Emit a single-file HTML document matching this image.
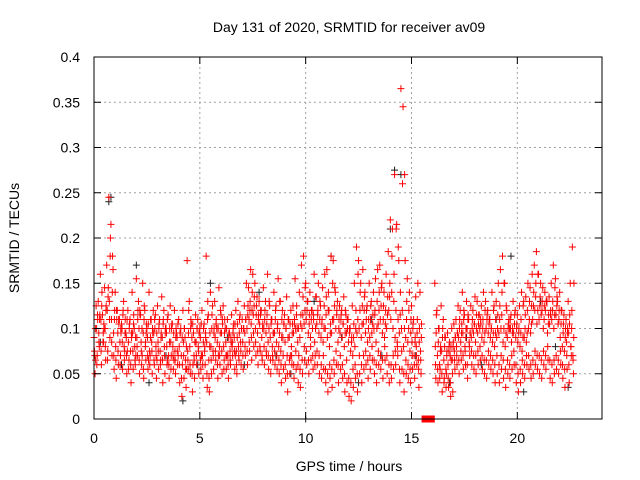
<!DOCTYPE html>
<html><head><meta charset="utf-8">
<style>
body{margin:0;background:#fff;}
svg{display:block;font-family:"Liberation Sans",sans-serif;}
</style></head>
<body>
<svg id="chart" width="640" height="480" viewBox="0 0 640 480" xmlns="http://www.w3.org/2000/svg">
<rect x="0" y="0" width="640" height="480" fill="#fff"/>
<text x="349" y="32" font-size="14" text-anchor="middle" fill="#000">Day 131 of 2020, SRMTID for receiver av09</text>
<g id="grid"></g>
<g id="black"></g>
<g id="red"></g>
<g id="axes"></g>
<text x="349" y="471" font-size="14" text-anchor="middle">GPS time / hours</text>
<text transform="translate(19,238) rotate(-90)" font-size="14" text-anchor="middle">SRMTID / TECUs</text>
</svg>
<script>
const xTicks=[0,5,10,15,20];
const yTicks=[0,0.05,0.1,0.15,0.2,0.25,0.3,0.35,0.4];
const yTickLabels=["0","0.05","0.1","0.15","0.2","0.25","0.3","0.35","0.4"];
const seriesA=[90,125,130,160,115,145,170,245,215,165,140,120,110,105,130,95,120,110,140,100,155,130,115,150,120,100,140,110,120,115,125,110,135,120,100,115,125,105,120,95,110,100,120,90,175,130,105,95,115,110,100,120,105,180,115,140,125,130,100,145,115,125,100,110,95,115,105,120,130,115,110,125,150,145,165,160,150,135,130,120,145,130,160,125,110,140,125,155,130,120,115,135,110,120,125,155,100,140,170,180,150,130,140,120,160,135,150,125,145,160,165,120,180,175,140,130,125,120,135,115,110,100,125,150,190,175,150,165,140,125,150,130,140,155,165,170,150,140,160,185,220,210,270,215,175,365,345,175,155,140,125,110,135,150,140,0,0,0,0,0,0,150,120,100,125,110,90,95,85,100,105,110,125,120,140,115,130,110,125,120,135,130,115,125,140,130,120,110,140,125,130,150,165,180,150,120,110,115,130,120,115,125,140,130,135,150,145,160,170,185,160,150,145,140,130,135,150,170,155,130,140,120,115,110,130,150,190];
const seriesB=[50,70,80,60,85,65,75,90,70,55,45,60,70,55,75,50,65,40,55,60,70,50,60,45,65,55,70,50,60,45,55,65,40,50,60,45,70,55,50,60,40,25,45,35,55,50,30,45,60,50,55,45,60,35,30,50,55,65,45,60,50,65,55,45,60,70,55,50,65,60,55,70,60,75,65,80,70,60,75,65,60,70,55,50,65,60,55,50,40,55,45,30,50,60,45,55,40,35,50,65,60,50,65,55,70,60,50,45,55,40,30,45,35,50,60,40,55,45,30,40,25,20,35,45,30,50,40,55,60,45,55,65,50,40,60,55,45,65,50,40,45,55,60,70,40,55,30,50,45,40,55,45,60,35,50,0,0,0,0,0,0,45,40,55,30,45,50,35,25,30,55,60,50,65,55,60,45,70,60,55,50,60,65,55,50,45,60,55,50,40,50,40,55,45,35,50,45,55,60,40,30,40,50,45,60,55,45,50,60,55,50,45,60,55,65,45,40,50,55,50,60,45,35,55,40,70,50];
const seriesC=[75,100,95,110,85,100,120,130,110,95,80,95,85,100,80,90,85,75,95,80,90,100,85,95,80,90,75,85,95,80,85,75,90,80,95,70,85,80,75,90,80,70,85,65,75,80,90,70,85,80,90,70,75,85,65,80,75,90,85,80,95,80,85,70,75,80,90,75,80,85,85,95,100,110,105,115,100,95,105,90,100,95,85,90,80,95,85,80,75,90,85,70,90,80,95,100,85,90,100,105,110,95,90,100,85,105,95,90,85,100,90,80,95,110,100,85,95,90,80,95,85,75,70,80,95,100,90,105,95,85,90,95,100,85,105,110,95,90,100,120,110,100,90,85,95,100,80,90,85,75,85,70,80,65,75,0,0,0,0,0,0,80,70,60,75,65,55,60,70,65,75,80,90,85,95,80,100,85,90,95,85,95,100,90,85,100,95,90,85,80,90,95,100,85,80,90,100,85,95,90,85,80,75,90,85,100,95,110,120,105,110,115,100,120,95,105,110,100,115,105,90,80,75,85,95,80,70];
const seriesD=[65,110,115,140,100,125,145,200,180,120,110,105,95,120,110,75,105,90,115,70,120,115,70,125,105,65,110,95,100,65,105,95,110,100,65,100,105,65,100,70,95,60,100,55,120,110,60,85,100,95,70,100,90,130,95,115,100,110,70,120,105,110,70,95,85,100,70,105,110,100,100,110,125,130,140,135,125,115,120,105,120,115,130,110,95,120,105,130,110,105,100,110,70,105,110,125,70,115,135,145,130,115,120,110,135,120,130,110,125,135,140,105,150,145,120,110,115,105,120,100,100,90,105,120,160,140,125,135,120,110,125,115,120,130,140,145,125,120,135,150,180,160,210,190,140,260,270,130,120,110,105,90,110,100,105,0,0,0,0,0,0,115,100,80,100,90,75,80,65,85,90,95,110,105,120,100,115,95,110,105,115,115,105,110,120,115,110,100,120,110,115,125,140,150,125,105,100,100,115,105,100,110,125,115,120,130,125,140,150,160,135,130,125,130,115,120,130,145,135,120,120,105,100,100,115,120,150];
const seriesE=[70,60,85,75,95,80,65,110,85,70,65,75,60,85,65,70,55,60,75,65,80,65,75,55,85,70,60,75,65,70,75,60,65,70,80,60,55,70,65,75,60,45,70,55,65,60,50,65,70,75,65,60,80,50,45,65,70,75,60,70,75,55,70,60,65,85,75,60,70,75,70,80,75,85,90,95,85,75,80,70,80,75,70,65,70,75,70,65,60,70,60,50,65,70,60,75,60,55,65,80,75,65,80,70,60,75,70,60,70,55,50,60,55,65,75,60,70,60,50,65,45,40,55,60,50,70,60,70,75,65,70,80,65,60,75,70,65,80,70,60,60,70,75,80,55,75,50,65,60,55,70,60,70,55,65,0,0,0,0,0,0,60,55,45,50,40,35,45,40,50,65,70,65,75,70,75,60,80,75,70,70,75,80,70,65,65,75,70,65,60,70,60,70,65,55,65,60,70,75,60,50,55,65,60,70,70,60,65,75,70,70,65,75,70,80,65,60,65,70,65,75,60,55,70,60,80,65];
const seriesF=[100,115,110,125,105,120,135,180,140,110,120,110,100,115,95,110,100,95,105,90,110,120,100,110,95,105,90,100,110,95,100,90,105,95,110,85,100,95,90,105,95,90,100,80,95,100,105,85,100,95,105,85,95,110,80,100,95,105,100,95,110,95,100,90,90,95,105,90,95,100,100,110,115,120,120,125,115,110,115,100,110,105,100,105,95,110,100,95,90,105,100,90,105,95,105,115,100,105,115,120,120,105,110,115,100,115,110,105,100,115,120,95,110,125,115,100,110,105,95,110,95,85,90,100,110,120,105,120,110,100,110,105,115,100,120,125,110,105,115,135,140,130,120,110,115,120,100,110,100,95,100,85,95,85,90,0,0,0,0,0,0,95,85,75,90,80,70,75,80,80,90,95,100,95,110,90,110,95,100,105,100,105,110,100,95,110,105,100,95,95,100,110,115,100,95,100,110,95,105,100,95,95,90,100,95,110,105,125,135,120,125,120,110,130,105,115,120,115,125,110,105,95,90,95,105,100,90];
const blackTimes=[0.3,0.7,0.8,1.3,2.0,2.6,3.4,4.2,4.9,5.5,6.3,7.1,7.8,8.6,9.3,10.0,10.4,11.2,11.7,12.5,13.1,13.6,14.0,14.2,14.5,15.2,16.8,17.6,18.3,19.0,19.7,20.3,21.1,21.8,22.4];
const blackVals=[0.085,0.24,0.245,0.06,0.17,0.04,0.07,0.02,0.06,0.15,0.09,0.06,0.14,0.07,0.05,0.0,0.13,0.18,0.09,0.04,0.11,0.07,0.21,0.275,0.27,0.07,0.04,0.09,0.06,0.11,0.18,0.03,0.13,0.08,0.035];

const NS="http://www.w3.org/2000/svg";
const L=94,R=602,T=57,B=419;
const xS=h=>L+h/24*(R-L);
const yS=v=>B-v/0.4*(B-T);
const grid=document.getElementById('grid'),axes=document.getElementById('axes');
function mk(tag,attrs,parent){const e=document.createElementNS(NS,tag);for(const k in attrs)e.setAttribute(k,attrs[k]);parent.appendChild(e);return e;}
yTicks.forEach((v,i)=>{
  const y=yS(v);
  if(i>0&&i<yTicks.length-1){const g=mk('line',{x1:L,x2:R,y1:y,y2:y,stroke:'#a0a0a0','stroke-dasharray':'2,3','stroke-width':1},grid);
  
  }
  mk('line',{x1:L,x2:L+7,y1:y,y2:y,stroke:'#000'},axes);
  mk('line',{x1:R,x2:R-7,y1:y,y2:y,stroke:'#000'},axes);
  const t=mk('text',{x:L-14,y:y+5,'font-size':14,'text-anchor':'end'},axes);
  t.textContent=yTickLabels[i];
  
  
});
xTicks.forEach(h=>{
  const x=xS(h);
  if(h>0){const g=mk('line',{x1:x,x2:x,y1:T,y2:B,stroke:'#a0a0a0','stroke-dasharray':'2,3','stroke-width':1},grid);
  
  }
  mk('line',{x1:x,x2:x,y1:B,y2:B-7,stroke:'#000'},axes);
  mk('line',{x1:x,x2:x,y1:T,y2:T+7,stroke:'#000'},axes);
  const t=mk('text',{x:x,y:B+24,'font-size':14,'text-anchor':'middle'},axes);
  t.textContent=String(h);
  
  
});
const box=mk('rect',{x:L,y:T,width:R-L,height:B-T,fill:'none',stroke:'#000','stroke-width':1},axes);



function plus(g,h,v,color){
  const x=xS(h),y=yS(v);
  const p=mk('path',{d:`M${x-3.5},${y}H${x+3.5}M${x},${y-3.5}V${y+3.5}`,stroke:color,'stroke-width':1,fill:'none'},g);
  
  
}
const blk=document.getElementById('black'),red=document.getElementById('red');
blackTimes.forEach((h,i)=>plus(blk,h,blackVals[i],'#202020'));
const offs=[0,0.05,0.025,0.075,0.035,0.065];
[seriesA,seriesB,seriesC,seriesD,seriesE,seriesF].forEach((s,k)=>{
  s.forEach((v,i)=>plus(red,i*0.1+offs[k],v/1000,'#ff0000'));
});
</script>
</body></html>
